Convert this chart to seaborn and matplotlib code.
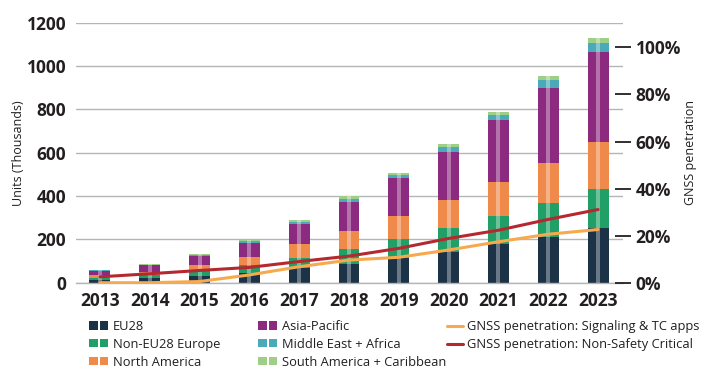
import matplotlib
matplotlib.use("Agg")
import matplotlib.pyplot as plt
import seaborn as sns
import numpy as np
from matplotlib.patches import Patch
from matplotlib.lines import Line2D
from matplotlib.legend_handler import HandlerTuple

# ---------------- data ----------------
years = ["2013", "2014", "2015", "2016", "2017", "2018", "2019", "2020", "2021", "2022", "2023"]
eu28 = [14, 20, 31, 46, 66, 85, 113, 143, 177, 212, 254]
non_eu28_europe = [10, 15, 23, 36, 49, 70, 87, 108, 131, 157, 177]
north_america = [10, 15, 28, 38, 62, 83, 108, 131, 158, 182, 220]
asia_pacific = [20, 30, 43, 65, 93, 135, 174, 223, 285, 346, 415]
middle_east_africa = [3, 3, 4, 7, 12, 15, 15, 23, 23, 38, 39]
south_america_caribbean = [2, 2, 2, 5, 7, 10, 11, 12, 15, 19, 23]
pen_signaling = [0.0, 0.0, 0.5, 3.3, 6.8, 9.6, 10.8, 13.9, 17.4, 20.6, 22.6]
pen_non_safety = [2.5, 3.8, 5.2, 6.5, 9.0, 11.3, 14.6, 18.8, 22.3, 26.9, 31.1]

series_names = ["EU28", "Non-EU28 Europe", "North America", "Asia-Pacific",
                "Middle East + Africa", "South America + Caribbean"]
series_vals = [eu28, non_eu28_europe, north_america, asia_pacific,
               middle_east_africa, south_america_caribbean]
series_colors = ["#1b3247", "#20a067", "#f08a4b", "#8c2a7f", "#4aaab8", "#9fce86"]
line_names = ["GNSS penetration: Signaling & TC apps", "GNSS penetration: Non-Safety Critical"]
line_colors = ["#f7a94d", "#b5282f"]

# ---------------- style ----------------
sns.set_style("white")
plt.rcParams["font.family"] = ["Open Sans", "DejaVu Sans"]

W, H = 709, 380
fig = plt.figure(figsize=(W / 100, H / 100), dpi=100)
ax_l, ax_r, ax_t, ax_b = 76, 623, 22.7, 282.7
ax = fig.add_axes([ax_l / W, 1 - ax_b / H, (ax_r - ax_l) / W, (ax_b - ax_t) / H])

cum = np.cumsum(np.array(series_vals, dtype=float), axis=0)
for i in reversed(range(len(series_vals))):
    sns.barplot(x=years, y=cum[i], color=series_colors[i], width=0.42, ax=ax,
                saturation=1, linewidth=0, edgecolor="none", zorder=2)
# light sheen stripe on bars
sns.barplot(x=years, y=cum[-1], color="white", width=0.08, ax=ax, saturation=1,
            linewidth=0, edgecolor="none", alpha=0.35, zorder=3)

ax.set_ylim(0, 1200)
ax.set_xlim(-0.48, 10.5)
ax.set_yticks(range(0, 1201, 200))
ax.set_axisbelow(True)
ax.yaxis.grid(True, color="#b5b5b5", linewidth=1.0)
ax.xaxis.grid(False)
for s in ["top", "right", "left"]:
    ax.spines[s].set_visible(False)
ax.spines["bottom"].set_color("#b5b5b5")
ax.spines["bottom"].set_linewidth(1.0)
ax.tick_params(axis="y", length=0, pad=7, labelsize=12.5, labelcolor="#231f20")
ax.tick_params(axis="x", length=0, pad=7, labelsize=12.5, labelcolor="#231f20")
for lab in ax.get_xticklabels() + ax.get_yticklabels():
    lab.set_fontweight("bold")
ax.set_xticks(np.arange(0.5, 10, 1), minor=True)
ax.tick_params(axis="x", which="minor", direction="in", length=4, color="#b5b5b5", width=1)
ax.set_xlabel("")
ax.set_ylabel("Units (Thousands)", fontsize=9, color="#231f20", labelpad=1)

ax2 = ax.twinx()
xs = np.arange(len(years))
sns.lineplot(x=xs, y=pen_signaling, ax=ax2, color=line_colors[0], linewidth=2.2, zorder=4)
sns.lineplot(x=xs, y=pen_non_safety, ax=ax2, color=line_colors[1], linewidth=2.2, zorder=5)
ax2.set_ylim(0, 110.5)
ax2.set_xlim(-0.48, 10.5)
ax2.set_yticks(range(0, 101, 20))
ax2.set_yticklabels([f"{v}%" for v in range(0, 101, 20)])
for s in ["top", "right", "left", "bottom"]:
    ax2.spines[s].set_visible(False)
ax2.tick_params(axis="y", right=True, direction="inout", length=12, width=1.3,
                color="#231f20", pad=3, labelsize=12.5, labelcolor="#231f20")
for lab in ax2.get_yticklabels():
    lab.set_fontweight("bold")
ax2.set_ylabel("GNSS penetration", fontsize=9, color="#231f20", labelpad=2)

# ---------------- legend ----------------
def bar_handle(c):
    return (Patch(facecolor=c, edgecolor="none"), Patch(facecolor=c, edgecolor="none"))

leg_kw = dict(frameon=False, fontsize=9.3, handlelength=1.5, handleheight=0.6,
              handletextpad=0.35, labelspacing=0.38, borderaxespad=0, borderpad=0,
              handler_map={tuple: HandlerTuple(ndivide=None, pad=0.15)})
cols = [(89, [0, 1, 2]), (258, [3, 4, 5])]
legend_top = 320
for x0, idxs in cols:
    lg = fig.legend([bar_handle(series_colors[i]) for i in idxs],
                    [series_names[i] for i in idxs], loc="upper left",
                    bbox_to_anchor=(x0 / W, 1 - legend_top / H), **leg_kw)
    for t in lg.get_texts():
        t.set_color("#231f20")
line_handles = [Line2D([0], [0], color=c, linewidth=2.2) for c in line_colors]
lg = fig.legend(line_handles, line_names, loc="upper left",
                bbox_to_anchor=(447 / W, 1 - legend_top / H),
                **{**leg_kw, "handlelength": 1.2})
for t in lg.get_texts():
    t.set_color("#231f20")

fig.savefig("out.png", dpi=100)
